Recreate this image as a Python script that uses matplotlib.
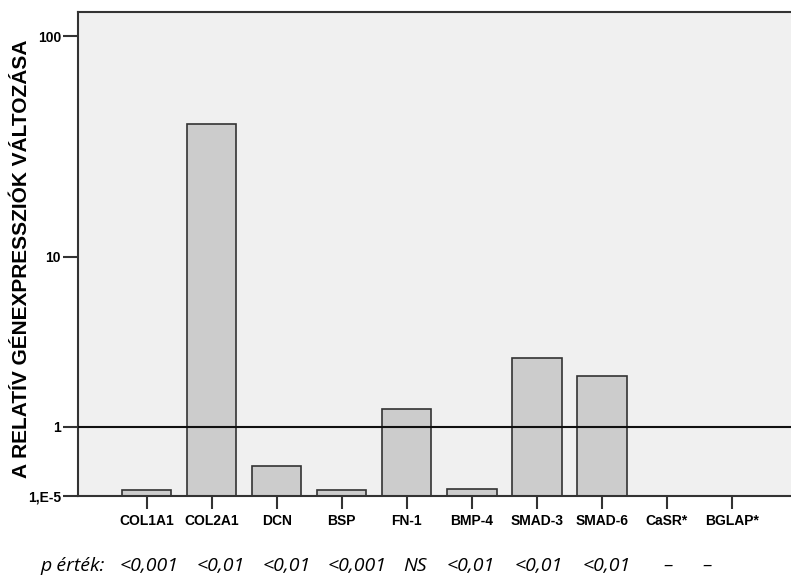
import matplotlib
matplotlib.use('Agg')
import matplotlib.pyplot as plt
import numpy as np

# gene expression fold change
genes = ['COL1A1', 'COL2A1', 'DCN', 'BSP', 'FN-1', 'BMP-4', 'SMAD-3', 'SMAD-6', 'CaSR*', 'BGLAP*']
fold_change = [0.056, 40.7, 0.343, 0.056, 1.38, 0.073, 2.99, 2.34, 0.0, 0.0]

y_ticks = [1e-5, 1, 10, 100]
y_tick_labels = ['1,E-5', '1', '10', '100']

p_values = ['p érték:', '<0,001', '<0,01', '<0,01', '<0,001', 'NS', '<0,01', '<0,01', '<0,01', '–', '–']
p_x_px = [40, 120, 197, 263, 328, 403, 447, 515, 583, 663, 702]

W, H = 791, 580
fig = plt.figure(figsize=(W / 100, H / 100), dpi=100)

# axes box in pixels: left 77.7, right past the image edge, top 12.3, bottom 495.7
left, right, top, bottom = 77.7, 801.0, 12.3, 495.7
ax = fig.add_axes([left / W, 1 - bottom / H, (right - left) / W, (bottom - top) / H])
ax.set_facecolor('#f0f0f0')


def fwd(y):
    return np.log10(1 + np.clip(y, 0, None))


def inv(t):
    return 10 ** t - 1


ax.set_yscale('function', functions=(fwd, inv))

x = np.arange(len(genes))
ax.bar(x, fold_change, width=0.758, color='#cccccc', edgecolor='#333333', linewidth=1.2, zorder=2)
ax.axhline(1, color='#111111', linewidth=1.5, zorder=3)

ax.set_xlim(-1.061, len(genes) - 1 + 1.061)
ax.set_ylim(0, inv(2.108))

ax.set_xticks(x)
ax.set_xticklabels(genes, fontsize=10, fontweight='bold', family='Liberation Sans')
ax.set_yticks(y_ticks)
ax.set_yticklabels(y_tick_labels, fontsize=10, fontweight='bold', family='Liberation Sans')
ax.minorticks_off()
ax.tick_params(axis='x', length=9, width=1.5, color='#333333', pad=4)
ax.tick_params(axis='y', length=11, width=1.5, color='#333333', pad=1)

for side in ['left', 'top', 'bottom', 'right']:
    ax.spines[side].set_color('#333333')
    ax.spines[side].set_linewidth(1.5)

fig.text(22 / W, 1 - 259 / H, 'A RELATÍV GÉNEXPRESSZIÓK VÁLTOZÁSA', rotation=90,
         ha='center', va='center', fontsize=15, fontweight='bold', family='Liberation Sans')

for label, px in zip(p_values, p_x_px):
    fig.text(px / W, 1 - 566 / H, label, ha='left', va='center', fontsize=14,
             style='italic', family='Open Sans')

fig.savefig('out.png', dpi=100)
